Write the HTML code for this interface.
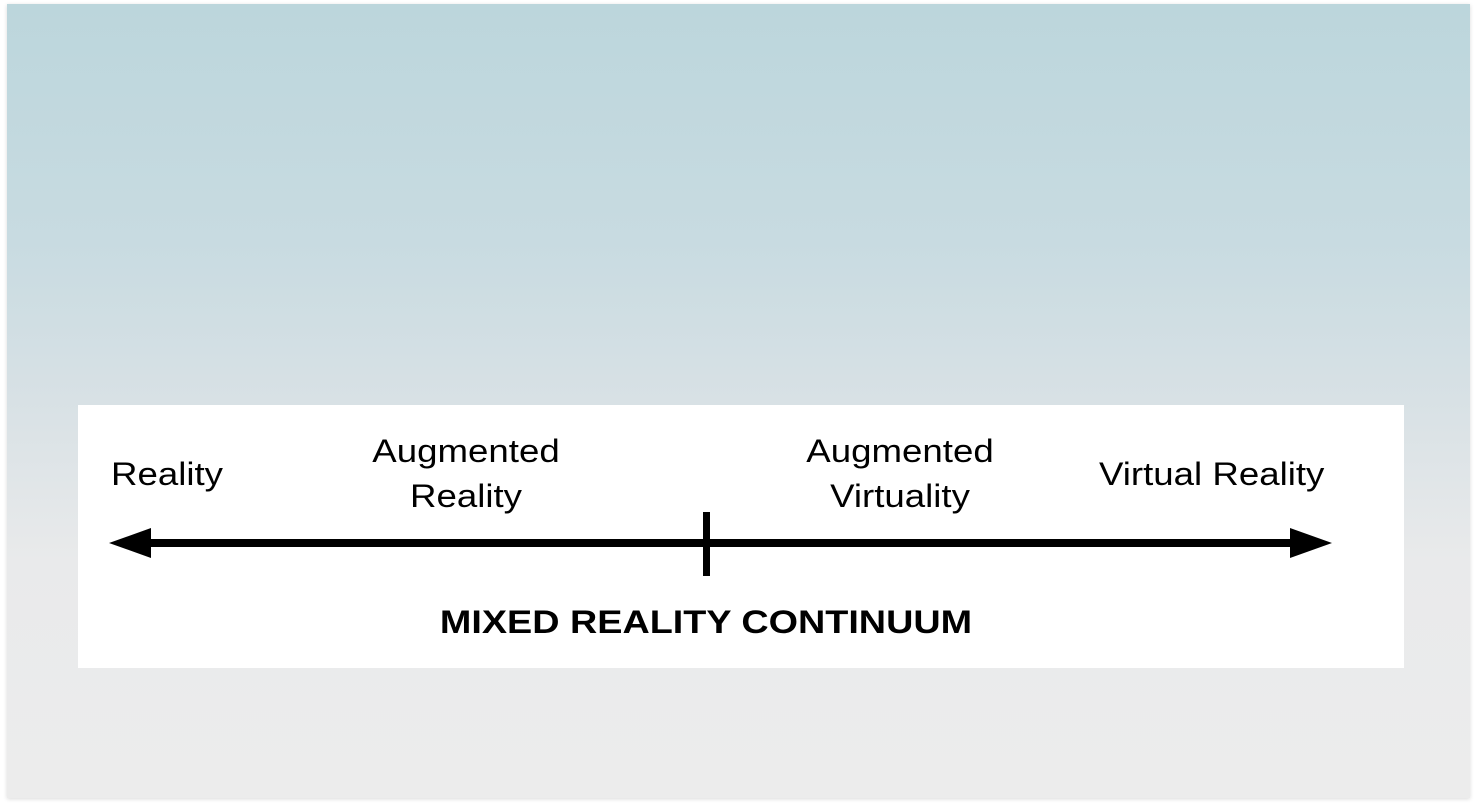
<!DOCTYPE html>
<html><head><style>
body{margin:0;width:1479px;height:808px;background:#fff;position:relative;overflow:hidden;font-family:"Liberation Sans",sans-serif}
#bg{position:absolute;left:7px;top:4px;width:1463px;height:794px;background:linear-gradient(#bcd6dc 0%,#c8dbe1 30%,#d8e1e5 50%,#e9eaeb 70%,#ececec 100%);box-shadow:0 1px 4px rgba(0,0,0,.15)}
#box{position:absolute;left:78px;top:405px;width:1326px;height:263px;background:#fff}
.t{position:absolute;font-size:32px;color:#000;line-height:45px;text-align:center;white-space:nowrap;transform:scaleX(1.145)}
.l{text-align:left;transform-origin:0 0}
</style></head><body>
<div id="bg"></div><div id="box"></div>
<div class="t l" style="left:111px;top:452px">Reality</div>
<div class="t" style="left:316px;width:300px;top:429px">Augmented<br>Reality</div>
<div class="t" style="left:750px;width:300px;top:429px">Augmented<br>Virtuality</div>
<div class="t l" style="left:1099px;top:452px">Virtual Reality</div>
<div class="t" style="left:356px;width:700px;top:600px;font-weight:bold;transform:scaleX(1.18)">MIXED REALITY CONTINUUM</div>
<svg style="position:absolute;left:0;top:0" width="1479" height="808">
<rect x="148" y="539" width="1144" height="8" fill="#000"/>
<polygon points="109,543 151,528 151,558" fill="#000"/>
<polygon points="1332,543 1290,528 1290,558" fill="#000"/>
<rect x="703" y="512" width="7" height="64" fill="#000"/>
</svg>
</body></html>
